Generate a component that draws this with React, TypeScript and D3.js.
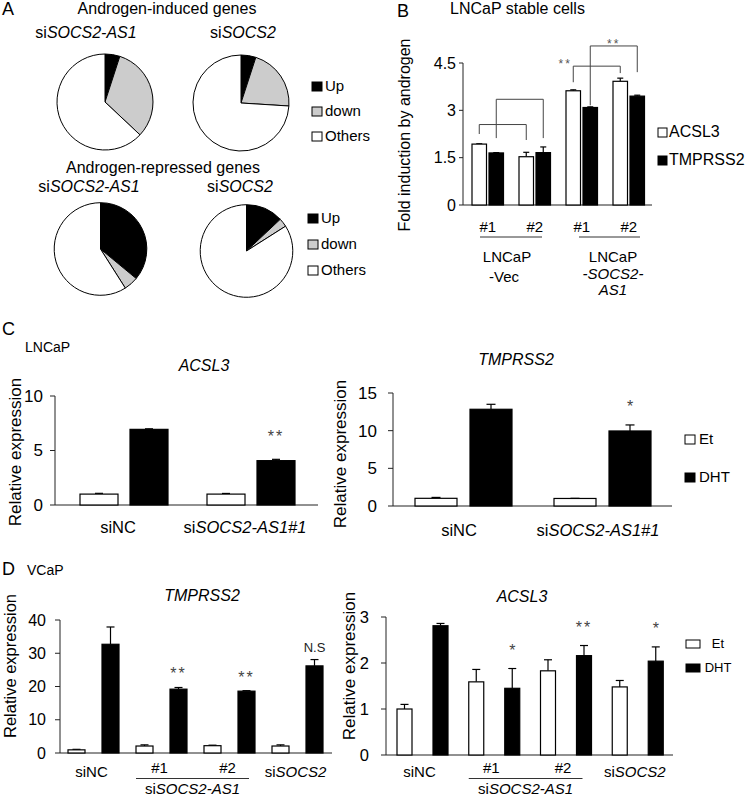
import React from "react";
import * as d3 from "d3";

const FONT = '"Liberation Sans", Arial, Helvetica, sans-serif';

// ---------- Panel A data ----------
const pieCategories = ["Up", "down", "Others"];
const pieFills = ["#000000", "#cccccc", "#ffffff"];
const inducedAS1 = [5, 32, 63];
const inducedSOCS2 = [5, 21, 74];
const repressedAS1 = [36, 5, 59];
const repressedSOCS2 = [13, 3, 84];

// ---------- Panel B data ----------
const bGroups = ["#1", "#2", "#1", "#2"];
const bSeries = ["ACSL3", "TMPRSS2"];
const bACSL3 = [1.93, 1.53, 3.62, 3.92];
const bACSL3Err = [0.01, 0.14, 0.03, 0.1];
const bTMPRSS2 = [1.65, 1.66, 3.09, 3.45];
const bTMPRSS2Err = [0.01, 0.18, 0.02, 0.03];
const bTicks = [0, 1.5, 3, 4.5];
const bTickLabels = ["0", "1.5", "3", "4.5"];
// brackets: series index, from group, to group, bar height, left leg end, right leg end, label
const bBrackets = [
  { s: 0, a: 0, b: 1, top: 2.55, l: 2.25, r: 2.06, label: "" },
  { s: 1, a: 0, b: 1, top: 3.35, l: 2.12, r: 2.12, label: "" },
  { s: 0, a: 2, b: 3, top: 4.4, l: 3.89, r: 4.18, label: "**" },
  { s: 1, a: 2, b: 3, top: 5.04, l: 3.16, r: 4.21, label: "**" },
];

// ---------- Panel C data ----------
const cGroups = ["siNC", "siSOCS2-AS1#1"];
const treatments = ["Et", "DHT"];
const cACSL3Et = [1.0, 1.0];
const cACSL3EtErr = [0.07, 0.06];
const cACSL3DHT = [6.94, 4.07];
const cACSL3DHTErr = [0.05, 0.12];
const cACSL3Sig = ["", "**"];
const cACSL3Ticks = [0, 5, 10];
const cTMPEt = [1.02, 1.0];
const cTMPEtErr = [0.12, 0.02];
const cTMPDHT = [12.84, 9.96];
const cTMPDHTErr = [0.66, 0.8];
const cTMPSig = ["", "*"];
const cTMPTicks = [0, 5, 10, 15];

// ---------- Panel D data ----------
const dGroups = ["siNC", "#1", "#2", "siSOCS2"];
const dTMPEt = [0.95, 2.1, 2.2, 2.1];
const dTMPEtErr = [0.15, 0.35, 0.15, 0.35];
const dTMPDHT = [32.7, 19.2, 18.6, 26.2];
const dTMPDHTErr = [5.2, 0.5, 0.15, 1.9];
const dTMPSig = ["", "**", "**", "N.S"];
const dTMPTicks = [0, 10, 20, 30, 40];
const dACSLEt = [1.0, 1.59, 1.83, 1.48];
const dACSLEtErr = [0.1, 0.27, 0.24, 0.14];
const dACSLDHT = [2.81, 1.45, 2.16, 2.04];
const dACSLDHTErr = [0.05, 0.43, 0.22, 0.31];
const dACSLSig = ["", "*", "**", "*"];
const dACSLTicks = [0, 1, 2, 3];

// ---------- helpers ----------
function SiLabel({ x, y, text, size, anchor = "middle" }: any) {
  if (text.startsWith("si") && text !== "siNC") {
    return (
      <text x={x} y={y} fontSize={size} textAnchor={anchor}>
        <tspan>si</tspan>
        <tspan fontStyle="italic">{text.slice(2)}</tspan>
      </text>
    );
  }
  return (
    <text x={x} y={y} fontSize={size} textAnchor={anchor}>
      {text}
    </text>
  );
}

function Pie({ cx, cy, r, values }: any) {
  const arcs = d3.pie<number>().sort(null).value((d) => d)(values);
  const arc = d3.arc<d3.PieArcDatum<number>>().innerRadius(0).outerRadius(r);
  return (
    <g transform={`translate(${cx},${cy})`}>
      {arcs.map((a, i) => (
        <path key={i} d={arc(a) as string} fill={pieFills[i]} stroke="#000" strokeWidth={1} />
      ))}
    </g>
  );
}

function PieLegend({ x, ys, size }: any) {
  return (
    <g>
      {pieCategories.map((c, i) => (
        <g key={c}>
          <rect x={x} y={ys[i] - 9} width={10} height={9} fill={pieFills[i]} stroke="#000" strokeWidth={1} />
          <text x={x + 13} y={ys[i]} fontSize={size}>
            {c}
          </text>
        </g>
      ))}
    </g>
  );
}

function YAxis({ y, x, ticks, labels, font, gap, tick = 4 }: any) {
  const [r0, r1] = y.range();
  return (
    <g>
      <line x1={x} x2={x} y1={r0} y2={r1} stroke="#222" strokeWidth={1} />
      {ticks.map((t: number, i: number) => (
        <g key={i}>
          <line x1={x - tick} x2={x} y1={y(t)} y2={y(t)} stroke="#222" strokeWidth={1} />
          <text x={x - tick - gap} y={y(t)} dy="0.35em" fontSize={font} textAnchor="end">
            {labels ? labels[i] : String(t)}
          </text>
        </g>
      ))}
    </g>
  );
}

function Bars({ xb, y, offW, offB, bw, w, we, b, be, cap }: any) {
  const out: any[] = [];
  w.forEach((v: number, i: number) => {
    const xs = [xb(i) + offW, xb(i) + offB];
    const vals = [v, b[i]];
    const errs = [we[i], be[i]];
    xs.forEach((x0, k) => {
      const cx = x0 + bw / 2;
      out.push(
        <g key={`${i}-${k}`}>
          <line x1={cx} x2={cx} y1={y(vals[k])} y2={y(vals[k] + errs[k])} stroke="#000" strokeWidth={1.2} />
          <line x1={cx - cap / 2} x2={cx + cap / 2} y1={y(vals[k] + errs[k])} y2={y(vals[k] + errs[k])} stroke="#000" strokeWidth={1.2} />
          <rect
            x={x0}
            y={y(vals[k])}
            width={bw}
            height={y(0) - y(vals[k])}
            fill={k === 0 ? "#fff" : "#000"}
            stroke="#000"
            strokeWidth={1.2}
          />
        </g>
      );
    });
  });
  return <g>{out}</g>;
}

function Sig({ xb, y, offB, bw, b, be, sig, off, font }: any) {
  return (
    <g>
      {sig.map((s: string, i: number) =>
        s ? (
          <text
            key={i}
            x={xb(i) + offB + bw / 2}
            y={y(b[i] + be[i]) - off}
            fontSize={s === "N.S" ? 13 : font}
            textAnchor="middle"
            fill={s === "N.S" ? "#222" : "#444"}
            letterSpacing={s === "**" ? 2 : 0}
          >
            {s}
          </text>
        ) : null
      )}
    </g>
  );
}

function TreatLegend({ x, ys, tx, font, w, h, anchor = "start" }: any) {
  return (
    <g>
      {treatments.map((t, i) => (
        <g key={t}>
          <rect x={x} y={ys[i] - h} width={w} height={h} fill={i === 0 ? "#fff" : "#000"} stroke="#000" strokeWidth={1} />
          <text x={tx} y={ys[i]} fontSize={font} textAnchor={anchor}>
            {t}
          </text>
        </g>
      ))}
    </g>
  );
}

export default function App() {
  // ----- Panel B -----
  const byB = d3.scaleLinear().domain([0, 4.5]).range([205, 63]);
  const bxB = d3.scaleBand<number>().domain(d3.range(bGroups.length)).range([463, 651]).padding(0);
  const bOffW = 9,
    bOffB = 26,
    bBw = 14.5;
  const bCenter = (s: number, i: number) => (bxB(i) as number) + (s === 0 ? bOffW : bOffB) + bBw / 2;

  // ----- Panel C -----
  const cyL = d3.scaleLinear().domain([0, 10]).range([505, 396]);
  const cxL = d3.scaleBand<number>().domain(d3.range(cGroups.length)).range([55, 309]).padding(0);
  const cyR = d3.scaleLinear().domain([0, 15]).range([506, 393]);
  const cxR = d3.scaleBand<number>().domain(d3.range(cGroups.length)).range([393, 671]).padding(0);

  // ----- Panel D -----
  const dyL = d3.scaleLinear().domain([0, 40]).range([753, 620]);
  const dxL = d3.scaleBand<number>().domain(d3.range(dGroups.length)).range([60, 332]).padding(0);
  const dyR = d3.scaleLinear().domain([0, 3]).range([755, 617]);
  const dxR = d3.scaleBand<number>().domain(d3.range(dGroups.length)).range([386, 673]).padding(0);

  const dLabels = (xb: any, offW: number, offB: number, bw: number, shift: number, ul: number) => {
    const gc = (i: number) => (xb(i) + offW + xb(i) + offB + bw) / 2 + shift;
    const ulx1 = xb(1) + offW;
    const ulx2 = xb(2) + offB + bw - ul;
    return (
      <g>
        <SiLabel x={gc(0)} y={777} text={dGroups[0]} size={15} />
        <SiLabel x={gc(1)} y={773} text={dGroups[1]} size={15} />
        <SiLabel x={gc(2)} y={773} text={dGroups[2]} size={15} />
        <SiLabel x={gc(3)} y={777} text={dGroups[3]} size={15} />
        <line x1={ulx1} x2={ulx2} y1={778.5} y2={778.5} stroke="#333" strokeWidth={1} />
        <SiLabel x={(ulx1 + ulx2) / 2} y={794} text="siSOCS2-AS1" size={15} />
      </g>
    );
  };

  return (
    <div style={{ position: "absolute", left: 0, top: 0 }}>
      <svg width={745} height={796} style={{ display: "block", fontFamily: FONT }} fill="#000">
        <rect width={745} height={796} fill="#fff" />

        {/* ================= Panel A ================= */}
        <text x={2} y={15} fontSize={18}>A</text>
        <text x={167} y={14} fontSize={16} textAnchor="middle">Androgen-induced genes</text>
        <SiLabel x={86} y={38} text="siSOCS2-AS1" size={16} />
        <SiLabel x={243} y={38} text="siSOCS2" size={16} />
        <Pie cx={105} cy={102} r={48} values={inducedAS1} />
        <Pie cx={241} cy={103} r={48} values={inducedSOCS2} />
        <PieLegend x={312} ys={[91, 116, 141]} size={15} />

        <text x={163} y={173} fontSize={16} textAnchor="middle">Androgen-repressed genes</text>
        <SiLabel x={89} y={192} text="siSOCS2-AS1" size={16} />
        <SiLabel x={240} y={192} text="siSOCS2" size={16} />
        <Pie cx={100.5} cy={249} r={46.3} values={repressedAS1} />
        <Pie cx={246.5} cy={251} r={46.3} values={repressedSOCS2} />
        <PieLegend x={308} ys={[223, 249, 275]} size={15} />

        {/* ================= Panel B ================= */}
        <text x={397} y={17} fontSize={18}>B</text>
        <text x={450} y={14} fontSize={16}>LNCaP stable cells</text>
        <text transform="translate(410,135) rotate(-90)" fontSize={16} textAnchor="middle">
          Fold induction by androgen
        </text>
        <YAxis y={byB} x={463} ticks={bTicks} labels={bTickLabels} font={16} gap={3} />
        <line x1={463} x2={652} y1={byB(0)} y2={byB(0)} stroke="#222" strokeWidth={1} />
        <Bars xb={bxB} y={byB} offW={bOffW} offB={bOffB} bw={bBw} w={bACSL3} we={bACSL3Err} b={bTMPRSS2} be={bTMPRSS2Err} cap={6} />
        {bBrackets.map((br, i) => {
          const xa = bCenter(br.s, br.a);
          const xbb = bCenter(br.s, br.b);
          return (
            <g key={i}>
              <path
                d={`M${xa},${byB(br.l)}V${byB(br.top)}H${xbb}V${byB(br.r)}`}
                fill="none"
                stroke="#444"
                strokeWidth={1}
              />
              {br.label ? (
                <text
                  x={br.s === 0 ? xa - 8 : (xa + xbb) / 2}
                  y={byB(br.top) + 2}
                  fontSize={12}
                  textAnchor="middle"
                  fill="#555"
                  letterSpacing={2}
                >
                  {br.label}
                </text>
              ) : null}
            </g>
          );
        })}
        {bGroups.map((g, i) => (
          <text key={i} x={(bCenter(0, i) + bCenter(1, i)) / 2} y={232} fontSize={15} textAnchor="middle">
            {g}
          </text>
        ))}
        <line x1={480} x2={542} y1={237} y2={237} stroke="#333" strokeWidth={1} />
        <line x1={579} x2={640} y1={237} y2={237} stroke="#333" strokeWidth={1} />
        <text x={507} y={262} fontSize={15} textAnchor="middle">LNCaP</text>
        <text x={504} y={282} fontSize={15} textAnchor="middle">-Vec</text>
        <text x={613} y={262} fontSize={15} textAnchor="middle">LNCaP</text>
        <text x={613} y={279} fontSize={15} textAnchor="middle" fontStyle="italic">-SOCS2-</text>
        <text x={613} y={295} fontSize={15} textAnchor="middle" fontStyle="italic">AS1</text>
        {bSeries.map((s, i) => (
          <g key={s}>
            <rect x={658} y={[128, 156][i]} width={9} height={9} fill={i === 0 ? "#fff" : "#000"} stroke="#000" strokeWidth={1} />
            <text x={669} y={[137, 165][i]} fontSize={16}>{s}</text>
          </g>
        ))}

        {/* ================= Panel C ================= */}
        <text x={2} y={335} fontSize={18}>C</text>
        <text x={25} y={352} fontSize={14}>LNCaP</text>
        <text x={204} y={371} fontSize={16} textAnchor="middle" fontStyle="italic">ACSL3</text>
        <text transform="translate(21,452) rotate(-90)" fontSize={17} textAnchor="middle">Relative expression</text>
        <YAxis y={cyL} x={55} ticks={cACSL3Ticks} font={17} gap={7} tick={5} />
        <line x1={55} x2={318} y1={cyL(0)} y2={cyL(0)} stroke="#222" strokeWidth={1} />
        <Bars xb={cxL} y={cyL} offW={25} offB={75} bw={38} w={cACSL3Et} we={cACSL3EtErr} b={cACSL3DHT} be={cACSL3DHTErr} cap={8} />
        <Sig xb={cxL} y={cyL} offB={75} bw={38} b={cACSL3DHT} be={cACSL3DHTErr} sig={cACSL3Sig} off={17} font={16} />
        {cGroups.map((g, i) => (
          <SiLabel key={i} x={(cxL(i) as number) + 63} y={533} text={g} size={16.5} />
        ))}

        <text x={516} y={365} fontSize={16} textAnchor="middle" fontStyle="italic">TMPRSS2</text>
        <text transform="translate(346,454) rotate(-90)" fontSize={17} textAnchor="middle">Relative expression</text>
        <YAxis y={cyR} x={393} ticks={cTMPTicks} font={17} gap={11} tick={5} />
        <line x1={393} x2={672} y1={cyR(0)} y2={cyR(0)} stroke="#222" strokeWidth={1} />
        <Bars xb={cxR} y={cyR} offW={22} offB={77} bw={42} w={cTMPEt} we={cTMPEtErr} b={cTMPDHT} be={cTMPDHTErr} cap={9} />
        <Sig xb={cxR} y={cyR} offB={77} bw={42} b={cTMPDHT} be={cTMPDHTErr} sig={cTMPSig} off={12.5} font={16} />
        {cGroups.map((g, i) => (
          <SiLabel key={i} x={(cxR(i) as number) + 66} y={536} text={g} size={16.5} />
        ))}
        <TreatLegend x={685} ys={[444, 482]} tx={699} font={15} w={10} h={9} />

        {/* ================= Panel D ================= */}
        <text x={2} y={575} fontSize={18}>D</text>
        <text x={27} y={575} fontSize={14}>VCaP</text>
        <text x={202} y={601} fontSize={16} textAnchor="middle" fontStyle="italic">TMPRSS2</text>
        <text transform="translate(15.5,666) rotate(-90)" fontSize={16.5} textAnchor="middle">Relative expression</text>
        <YAxis y={dyL} x={60} ticks={dTMPTicks} font={16} gap={9} tick={5} />
        <line x1={60} x2={332} y1={dyL(0)} y2={dyL(0)} stroke="#222" strokeWidth={1} />
        <Bars xb={dxL} y={dyL} offW={8} offB={42} bw={17} w={dTMPEt} we={dTMPEtErr} b={dTMPDHT} be={dTMPDHTErr} cap={8} />
        <Sig xb={dxL} y={dyL} offB={42} bw={17} b={dTMPDHT} be={dTMPDHTErr} sig={dTMPSig} off={8} font={16} />
        {dLabels(dxL, 8, 42, 17, -2, 6)}

        <text x={522} y={602} fontSize={16} textAnchor="middle" fontStyle="italic">ACSL3</text>
        <text transform="translate(355,666) rotate(-90)" fontSize={17} textAnchor="middle">Relative expression</text>
        <YAxis y={dyR} x={386} ticks={dACSLTicks} font={16.5} gap={12} tick={5} />
        <line x1={386} x2={673} y1={dyR(0)} y2={dyR(0)} stroke="#222" strokeWidth={1} />
        <Bars xb={dxR} y={dyR} offW={11} offB={47} bw={15} w={dACSLEt} we={dACSLEtErr} b={dACSLDHT} be={dACSLDHTErr} cap={8} />
        <Sig xb={dxR} y={dyR} offB={47} bw={15} b={dACSLDHT} be={dACSLDHTErr} sig={dACSLSig} off={13} font={16} />
        {dLabels(dxR, 11, 47, 15, -3, 9)}
        <TreatLegend x={686} ys={[648, 672]} tx={718} font={13} w={14} h={8} anchor="middle" />
      </svg>
    </div>
  );
}
